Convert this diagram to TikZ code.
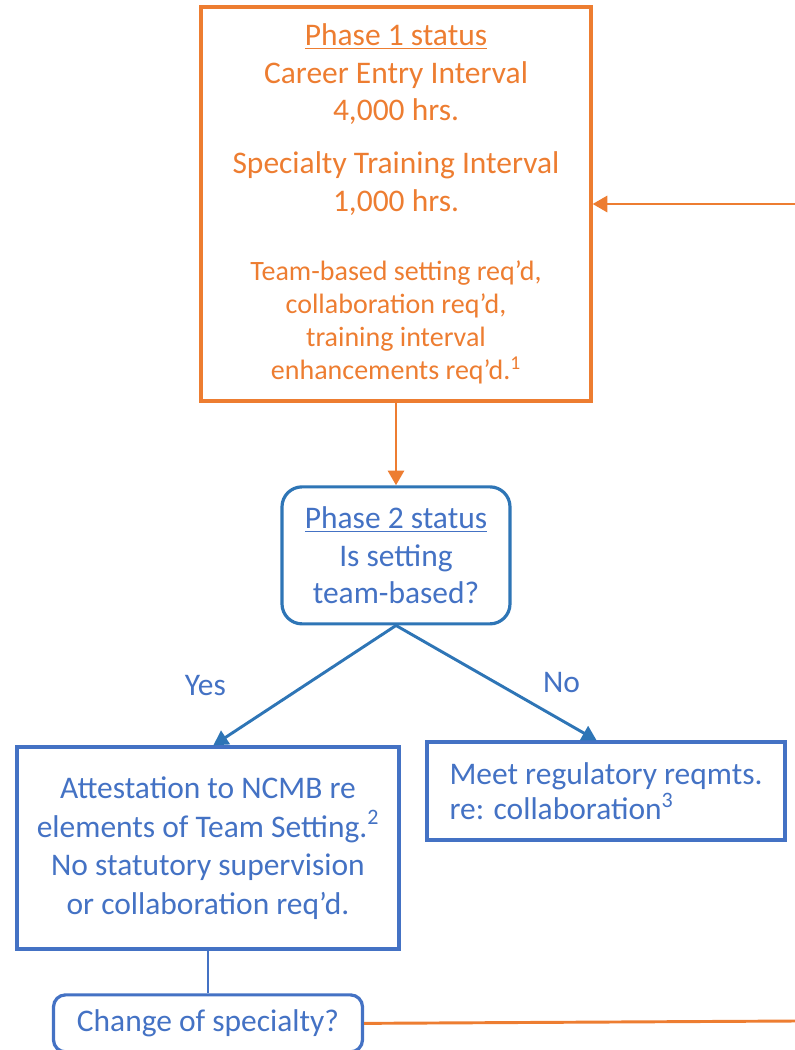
\documentclass[tikz,border=0pt]{standalone}
\usepackage{fontspec}
\setmainfont{Carlito}
\usepackage{xcolor}
\usepackage{tikz}
\usetikzlibrary{positioning,%
  arrows.meta,%
  calc%
}
\definecolor{orng}{HTML}{ED7D31}
\definecolor{blu}{HTML}{2E75B6}
\definecolor{bluT}{HTML}{4472C4}

\begin{document}
\begin{tikzpicture}
                    [x=0.75pt, y=-0.75pt,
                    ph/.style={rectangle, draw=orng, text=orng,
                        line width=2.4pt, align=center,
                        font=\fontsize{23.6pt}{28pt}\selectfont},
                    dc/.style={rectangle, rounded corners=15pt,
                        draw=blu, text=bluT, line width=2.4pt,
                        align=center,
                        font=\fontsize{23.6pt}{28pt}\selectfont},
                    bx/.style={rectangle, draw=bluT, text=bluT,
                        line width=2.4pt,
                        font=\fontsize{23.6pt}{29pt}\selectfont},
                    lbl/.style={text=bluT, inner sep=2pt,
                        font=\fontsize{23.6pt}{28pt}\selectfont},
                    tip/.style={-{Triangle[length=11pt,width=12pt]}},
                    line width=2.2pt]

                    \useasboundingbox (0,0) rectangle (795,1050);

                    \node[ph, minimum width=292.5pt, minimum height=295.5pt]
                        (ph1) at (396,204)
                        {\underline{Phase 1 status}\\
                         Career Entry Interval\\
                         4,000 hrs.\\[12pt]
                         Specialty Training Interval\\
                         1,000 hrs.\\[24pt]
                         \fontsize{21pt}{25pt}\selectfont
                         Team-based setting req’d,\\[-3.25pt]
                         \fontsize{21pt}{25pt}\selectfont
                         collaboration req’d,\\[-3.25pt]
                         \fontsize{21pt}{25pt}\selectfont
                         training interval\\[-3.25pt]
                         \fontsize{21pt}{25pt}\selectfont
                         enhancements req’d.\textsuperscript{1}};
                    \node[dc, minimum width=171pt, minimum height=102.75pt,
                        below=62pt of ph1]
                        (ph2) {\underline{Phase 2 status}\\
                         Is setting\\ team-based?};
                    \node[bx, align=center, minimum width=286.5pt,
                        minimum height=151.5pt]
                        (yes) at (208,848)
                        {Attestation to NCMB re\\
                         elements of Team Setting.\textsuperscript{2}\\
                         No statutory supervision\\
                         or collaboration req’d.};
                    \node[bx, align=left, minimum width=268.5pt,
                        minimum height=73.5pt]
                        (no) at (606,791)
                        {Meet regulatory reqmts.\\[-3pt]
                         re: collaboration\textsuperscript{3}};
                    \node[dc, draw=bluT, rounded corners=9pt,
                        minimum width=231.75pt, minimum height=42.75pt,
                        below=32pt of yes]
                        (chg) {Change of specialty?};

                    \coordinate (rt) at (795,204);
                    \coordinate (rb) at (795,1021);

                    \draw[tip, orng] (ph1) -- (ph2);
                    \draw[tip, blu] (ph2.south) -- ([xshift=4pt]yes.north)
                        node[lbl, midway, left=56pt] {Yes};
                    \draw[tip, blu] (ph2.south) -- ([xshift=-7pt]no.north)
                        node[lbl, midway, right=32pt] {No};
                    \draw[bluT] (yes) -- (chg);

                    \draw[orng] (chg.east) -- (rb);
                    \draw[tip, orng] (rt) -- (ph1.east);
                \end{tikzpicture}
\end{document}
